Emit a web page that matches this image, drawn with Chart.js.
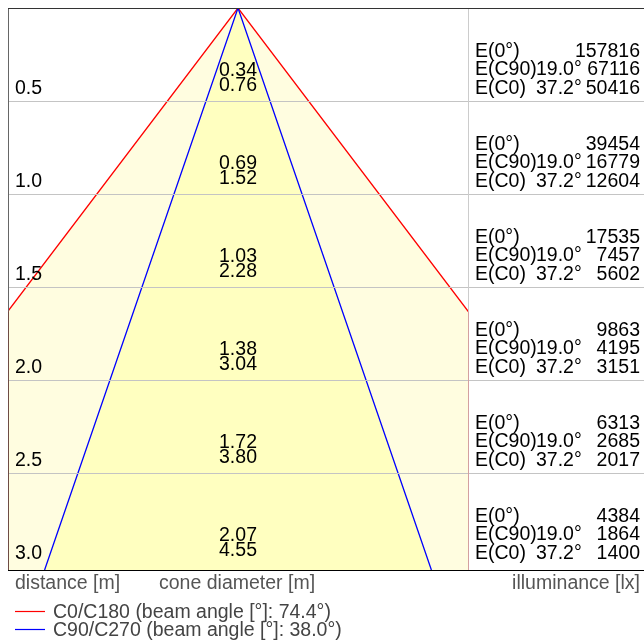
<!DOCTYPE html>
<html>
<head>
<meta charset="utf-8">
<script src="https://cdn.jsdelivr.net/npm/chart.js@4/dist/chart.umd.min.js"></script>
<style>
  html, body { margin: 0; padding: 0; background: #fff; }
  #wrap { width: 644px; height: 644px; }
</style>
</head>
<body>
<div id="wrap"><canvas id="cone" width="644" height="644"></canvas></div>
<script>
// distances from the luminaire [m]
var distances = [0.5, 1.0, 1.5, 2.0, 2.5, 3.0];
// cone diameters [m]
var diamC90 = ['0.34', '0.69', '1.03', '1.38', '1.72', '2.07'];
var diamC0 = ['0.76', '1.52', '2.28', '3.04', '3.80', '4.55'];
// illuminance [lx]
var eCenter = [157816, 39454, 17535, 9863, 6313, 4384];
var eC90 = [67116, 16779, 7457, 4195, 2685, 1864];
var eC0 = [50416, 12604, 5602, 3151, 2017, 1400];
// beam angles [deg]
var beamC0 = 74.4;
var beamC90 = 38.0;
var halfC90 = '19.0°';
var halfC0 = '37.2°';

var Y_MAX = 3.02;
var X_HALF = 1.2366;
var FONT = '"Liberation Sans", Arial, sans-serif';

function conePoints(beam) {
  var r = Y_MAX * Math.tan(beam / 2 * Math.PI / 180);
  return [{x: -r, y: Y_MAX}, {x: 0, y: 0}, {x: r, y: Y_MAX}];
}

var overlay = {
  id: 'overlay',
  afterDatasetsDraw: function(chart) {
    var c = chart.ctx, a = chart.chartArea;
    var ys = chart.scales.y, xs = chart.scales.x;
    c.save();
    // horizontal grid lines through the whole table
    c.strokeStyle = '#c4c4c4';
    c.lineWidth = 1;
    for (var i = 0; i < distances.length - 1; i++) {
      var y = Math.round(ys.getPixelForValue(distances[i])) + 0.5;
      c.beginPath(); c.moveTo(a.left, y); c.lineTo(644, y); c.stroke();
    }
    // where the outer cone reaches the plot edge
    var yEdge = ys.getPixelForValue(X_HALF / Math.tan(beamC0 / 2 * Math.PI / 180));
    // left border
    c.strokeStyle = '#666';
    c.beginPath(); c.moveTo(a.left + 0.5, a.top); c.lineTo(a.left + 0.5, yEdge); c.stroke();
    c.strokeStyle = '#6e4c44';
    c.beginPath(); c.moveTo(a.left + 0.5, yEdge); c.lineTo(a.left + 0.5, a.bottom); c.stroke();
    // separator to illuminance panel
    c.strokeStyle = '#cccccc';
    c.beginPath(); c.moveTo(a.right + 0.5, a.top); c.lineTo(a.right + 0.5, yEdge); c.stroke();
    c.strokeStyle = '#d4a0a0';
    c.beginPath(); c.moveTo(a.right + 0.5, yEdge); c.lineTo(a.right + 0.5, a.bottom); c.stroke();
    // top and bottom border
    c.strokeStyle = '#333';
    c.beginPath(); c.moveTo(a.left, a.top + 0.5); c.lineTo(644, a.top + 0.5); c.stroke();
    c.strokeStyle = '#000';
    c.beginPath(); c.moveTo(a.left, a.bottom + 0.5); c.lineTo(644, a.bottom + 0.5); c.stroke();

    c.font = '19.5px ' + FONT;
    c.fillStyle = '#000';
    var cx = xs.getPixelForValue(0);
    for (var k = 0; k < distances.length; k++) {
      var yl = ys.getPixelForValue(distances[k]);
      // distance label
      c.textAlign = 'left';
      c.fillText(distances[k].toFixed(1), 15, yl - 7);
      // cone diameters
      c.textAlign = 'center';
      c.fillText(diamC90[k], cx, yl - 25);
      c.fillText(diamC0[k], cx, yl - 10.5);
      // illuminance panel
      c.textAlign = 'left';
      c.fillText('E(0°)', 475, yl - 44.5);
      c.fillText('E(C90)', 475, yl - 26);
      c.fillText('E(C0)', 475, yl - 7.5);
      c.fillText(halfC90, 536, yl - 26);
      c.fillText(halfC0, 536, yl - 7.5);
      c.textAlign = 'right';
      c.fillText(String(eCenter[k]), 640, yl - 44.5);
      c.fillText(String(eC90[k]), 640, yl - 26);
      c.fillText(String(eC0[k]), 640, yl - 7.5);
    }
    // axis titles
    c.fillStyle = '#555';
    c.textAlign = 'left';
    c.fillText('distance [m]', 15, 589);
    c.fillText('cone diameter [m]', 159, 589);
    c.textAlign = 'right';
    c.fillText('illuminance [lx]', 640, 589);
    // legend
    c.textAlign = 'left';
    c.lineWidth = 1.2;
    c.strokeStyle = '#ff0000';
    c.beginPath(); c.moveTo(15, 611.5); c.lineTo(45, 611.5); c.stroke();
    c.strokeStyle = '#0000ff';
    c.beginPath(); c.moveTo(15, 629.5); c.lineTo(45, 629.5); c.stroke();
    c.fillStyle = '#444';
    c.fillText('C0/C180 (beam angle [°]: ' + beamC0.toFixed(1) + '°)', 53, 618);
    c.fillText('C90/C270 (beam angle [°]: ' + beamC90.toFixed(1) + '°)', 53, 636);
    c.restore();
  }
};

new Chart(document.getElementById('cone'), {
  type: 'line',
  data: {
    datasets: [{
      label: 'C90/C270',
      data: conePoints(beamC90),
      borderColor: '#0000ff',
      borderWidth: 1.3,
      backgroundColor: '#ffffc0',
      fill: {value: Y_MAX},
      pointRadius: 0,
      tension: 0,
      order: 1
    }, {
      label: 'C0/C180',
      data: conePoints(beamC0),
      borderColor: '#ff0000',
      borderWidth: 1.3,
      backgroundColor: '#fffde0',
      fill: {value: Y_MAX},
      pointRadius: 0,
      tension: 0,
      order: 2
    }]
  },
  options: {
    responsive: false,
    animation: false,
    devicePixelRatio: 1,
    layout: { padding: { left: 8, top: 8, right: 176, bottom: 74 } },
    plugins: { legend: { display: false }, tooltip: { enabled: false } },
    scales: {
      x: { type: 'linear', min: -X_HALF, max: X_HALF, display: false },
      y: { type: 'linear', min: 0, max: Y_MAX, reverse: true, display: false }
    }
  },
  plugins: [overlay]
});
</script>
</body>
</html>
